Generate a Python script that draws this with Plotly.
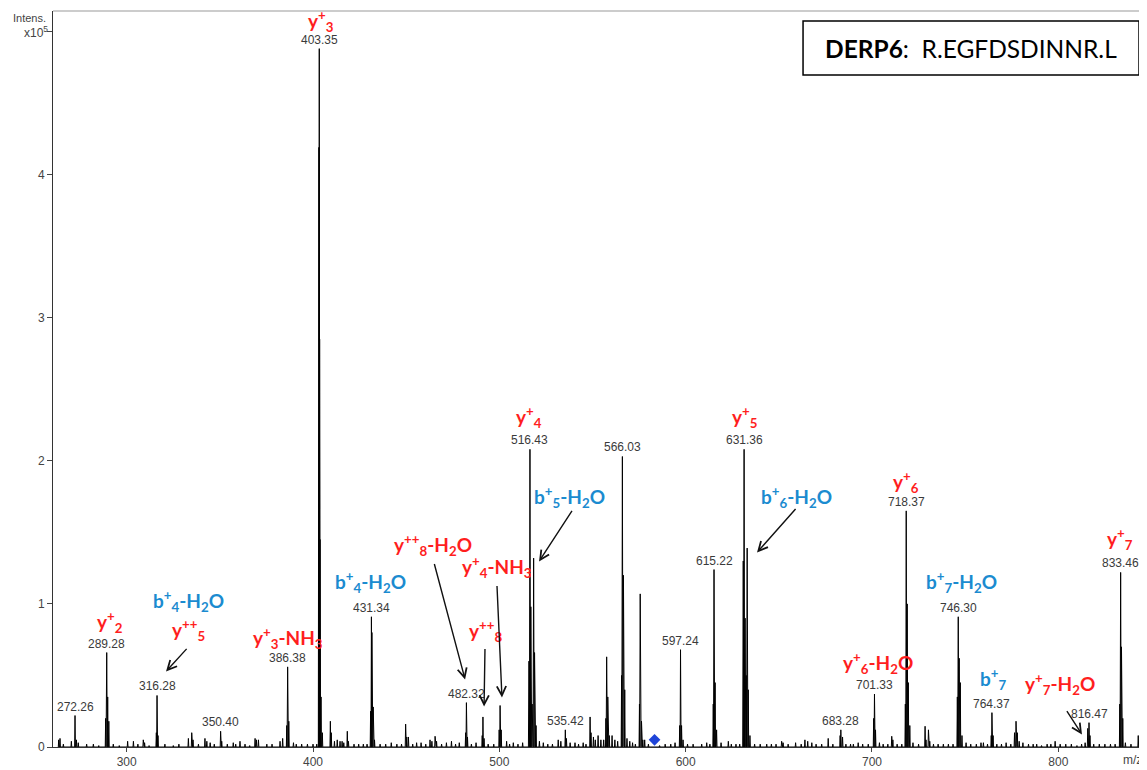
import plotly.graph_objects as go

# ---------------- data (m/z, intensity in units of 1e5) ----------------
peak_mz = [
    263.5, 264.2, 266.0, 270.3, 272.26, 273.0, 274.0, 278.5, 282.1, 285.0,
    288.7, 289.28, 289.8, 290.4, 292.8, 296.0, 300.5, 303.6, 306.0, 308.9,
    309.6, 312.0, 315.9, 316.28, 316.8, 320.5, 325.0, 328.0, 333.1, 334.9,
    335.6, 338.5, 342.0, 343.0, 344.8, 347.0, 350.40, 351.0, 354.0, 357.2,
    358.5, 360.8, 363.5, 366.0, 368.9, 369.6, 370.7, 375.2, 378.0, 382.3,
    383.7, 385.9, 386.38, 387.0, 389.5, 391.0, 393.9, 397.0, 400.0, 402.0,
    403.15, 403.35, 403.55, 403.75, 404.3, 405.0, 409.3, 409.8, 411.5, 413.0,
    414.5, 415.6, 416.5, 418.4, 419.0, 422.0, 424.5, 427.0, 429.0, 430.9,
    431.34, 431.6, 432.3, 433.0, 436.0, 439.0, 442.0, 445.0, 447.5, 449.7,
    450.3, 451.2, 453.5, 455.6, 458.0, 460.5, 462.8, 463.8, 465.5, 466.3,
    469.0, 471.6, 474.3, 476.5, 478.5, 481.9, 482.32, 482.9, 485.0, 487.5,
    490.8, 491.2, 491.8, 494.0, 497.0, 499.9, 500.4, 501.0, 503.9, 505.5,
    507.5, 510.0, 512.5, 515.9, 516.43, 516.9, 517.6, 518.4, 518.9, 519.7,
    521.5, 523.6, 526.0, 528.5, 531.6, 533.0, 535.42, 536.0, 538.0, 540.6,
    542.5, 545.0, 546.5, 548.7, 549.2, 550.5, 551.5, 553.0, 554.5, 556.0,
    557.2, 557.6, 558.2, 559.0, 560.5, 562.0, 563.5, 565.6, 566.03, 566.6,
    567.3, 568.5, 570.0, 571.5, 573.0, 575.2, 575.6, 576.3, 577.0, 578.0,
    580.0, 586.0, 589.0, 592.0, 594.3, 596.8, 597.24, 597.8, 598.6, 601.0,
    604.0, 608.6, 611.3, 613.0, 614.8, 615.22, 615.8, 616.6, 619.0, 622.9,
    624.5, 627.0, 629.0, 630.9, 631.36, 631.9, 632.5, 633.0, 633.6, 634.5,
    637.0, 640.0, 643.5, 646.0, 648.5, 651.5, 652.3, 655.0, 659.0, 662.0,
    664.0, 665.5, 667.7, 670.0, 673.0, 676.5, 679.0, 682.9, 683.28, 684.2,
    686.0, 688.5, 690.0, 692.6, 695.0, 698.0, 700.9, 701.33, 701.9, 704.0,
    706.0, 708.5, 710.6, 711.2, 713.5, 716.0, 717.9, 718.37, 718.9, 719.5,
    720.3, 722.0, 725.0, 728.5, 729.0, 730.3, 731.0, 733.0, 735.5, 738.3,
    741.0, 743.5, 745.8, 746.30, 746.8, 747.4, 748.3, 750.5, 753.0, 756.0,
    758.5, 759.8, 762.0, 764.0, 764.37, 765.0, 767.0, 769.5, 772.0, 774.5,
    776.5, 777.3, 778.0, 779.0, 781.0, 784.0, 786.5, 788.4, 791.0, 794.0,
    796.0, 798.3, 801.0, 804.0, 807.0, 810.0, 812.5, 814.4, 815.8, 816.47,
    817.0, 819.0, 822.0, 825.0, 828.0, 830.5, 833.0, 833.46, 833.9, 834.6,
    836.0, 839.0, 842.9, 844.2, 846.0,
]
peak_int = [
    0.05, 0.06, 0.02, 0.04, 0.22, 0.05, 0.03, 0.02, 0.02, 0.01,
    0.20, 0.66, 0.35, 0.18, 0.02, 0.01, 0.04, 0.04, 0.02, 0.05,
    0.03, 0.01, 0.10, 0.36, 0.08, 0.02, 0.01, 0.02, 0.06, 0.10,
    0.05, 0.02, 0.06, 0.04, 0.03, 0.02, 0.11, 0.04, 0.02, 0.03,
    0.02, 0.04, 0.02, 0.01, 0.06, 0.05, 0.05, 0.02, 0.02, 0.04,
    0.06, 0.15, 0.56, 0.18, 0.03, 0.02, 0.02, 0.02, 0.02, 0.02,
    4.19, 4.88, 2.85, 1.45, 0.35, 0.10, 0.18, 0.10, 0.04, 0.05,
    0.04, 0.04, 0.03, 0.11, 0.04, 0.02, 0.02, 0.02, 0.02, 0.25,
    0.91, 0.80, 0.28, 0.05, 0.02, 0.02, 0.03, 0.02, 0.02, 0.16,
    0.07, 0.07, 0.02, 0.03, 0.03, 0.02, 0.05, 0.04, 0.075, 0.04,
    0.02, 0.03, 0.04, 0.02, 0.03, 0.10, 0.31, 0.07, 0.02, 0.03,
    0.08, 0.21, 0.06, 0.02, 0.02, 0.12, 0.29, 0.12, 0.04, 0.02,
    0.03, 0.02, 0.03, 0.60, 2.08, 0.98, 0.30, 1.32, 0.66, 0.15,
    0.04, 0.03, 0.02, 0.02, 0.05, 0.04, 0.12, 0.06, 0.03, 0.03,
    0.02, 0.03, 0.02, 0.21, 0.10, 0.07, 0.05, 0.08, 0.05, 0.05,
    0.20, 0.63, 0.35, 0.08, 0.08, 0.05, 0.04, 0.50, 2.03, 1.20,
    0.40, 0.06, 0.04, 0.03, 0.02, 0.30, 1.07, 0.18, 0.05, 0.05,
    0.02, 0.01, 0.02, 0.02, 0.03, 0.15, 0.68, 0.15, 0.05, 0.02,
    0.02, 0.02, 0.03, 0.02, 0.30, 1.24, 0.45, 0.12, 0.03, 0.04,
    0.02, 0.02, 0.02, 1.30, 2.08, 0.90, 0.50, 1.39, 0.40, 0.08,
    0.02, 0.02, 0.02, 0.02, 0.02, 0.04, 0.03, 0.02, 0.03, 0.02,
    0.05, 0.04, 0.03, 0.02, 0.02, 0.06, 0.02, 0.08, 0.12, 0.07,
    0.02, 0.02, 0.02, 0.03, 0.02, 0.02, 0.20, 0.37, 0.12, 0.03,
    0.02, 0.02, 0.075, 0.05, 0.02, 0.02, 0.30, 1.65, 1.00, 0.45,
    0.15, 0.03, 0.02, 0.145, 0.05, 0.12, 0.04, 0.02, 0.02, 0.02,
    0.02, 0.02, 0.35, 0.91, 0.62, 0.45, 0.08, 0.03, 0.02, 0.02,
    0.03, 0.03, 0.02, 0.08, 0.24, 0.08, 0.02, 0.02, 0.03, 0.02,
    0.10, 0.18, 0.10, 0.04, 0.03, 0.02, 0.02, 0.02, 0.01, 0.02,
    0.02, 0.04, 0.02, 0.02, 0.02, 0.01, 0.02, 0.03, 0.13, 0.17,
    0.08, 0.02, 0.02, 0.02, 0.02, 0.02, 0.30, 1.22, 0.70, 0.20,
    0.03, 0.02, 0.08, 0.06, 0.02,
]

# labelled peaks (m/z values printed above peaks)
label_mz = [272.26, 289.28, 316.28, 350.40, 386.38, 403.35, 431.34, 482.32,
            516.43, 535.42, 566.03, 597.24, 615.22, 631.36, 683.28, 701.33,
            718.37, 746.30, 764.37, 816.47, 833.46]

# precursor marker
precursor_mz = [583.3]
precursor_int = [0.05]

# fragment-ion annotations: text and colour group
ion_text = ["y<sup>+</sup><sub>3</sub>", "y<sup>+</sup><sub>2</sub>",
            "y<sup>++</sup><sub>5</sub>", "b<sup>+</sup><sub>4</sub>-H<sub>2</sub>O",
            "y<sup>+</sup><sub>3</sub>-NH<sub>3</sub>", "b<sup>+</sup><sub>4</sub>-H<sub>2</sub>O",
            "y<sup>++</sup><sub>8</sub>-H<sub>2</sub>O", "y<sup>+</sup><sub>4</sub>-NH<sub>3</sub>",
            "y<sup>++</sup><sub>8</sub>", "b<sup>+</sup><sub>5</sub>-H<sub>2</sub>O",
            "y<sup>+</sup><sub>4</sub>", "y<sup>+</sup><sub>5</sub>",
            "b<sup>+</sup><sub>6</sub>-H<sub>2</sub>O", "y<sup>+</sup><sub>6</sub>",
            "y<sup>+</sup><sub>6</sub>-H<sub>2</sub>O", "b<sup>+</sup><sub>7</sub>-H<sub>2</sub>O",
            "b<sup>+</sup><sub>7</sub>", "y<sup>+</sup><sub>7</sub>-H<sub>2</sub>O",
            "y<sup>+</sup><sub>7</sub>"]
ion_kind = ["y", "y", "y", "b", "y", "b", "y", "y", "y", "b",
            "y", "y", "b", "y", "y", "b", "b", "y", "y"]

RED = "#FF1E1E"
BLUE = "#1B8BD0"

# ---------------- build profile trace ----------------
prof_x, prof_y = [], []
for mz, h in zip(peak_mz, peak_int):
    w = 0.3 if h > 0.5 else 0.22
    prof_x += [mz - w, mz, mz + w]
    prof_y += [0, h, 0]

lookup = dict(zip(peak_mz, peak_int))

fig = go.Figure()
fig.add_trace(go.Scatter(x=prof_x, y=prof_y, mode="lines",
                         line=dict(color="black", width=1), hoverinfo="skip"))
fig.add_trace(go.Scatter(x=precursor_mz, y=precursor_int, mode="markers",
                         marker=dict(symbol="diamond", size=9, color="#1f44d8"),
                         hoverinfo="skip"))

ann = []
for mz in label_mz:
    ann.append(dict(x=mz, y=lookup[mz], xref="x", yref="y", text=f"{mz:.2f}",
                    showarrow=False, yanchor="bottom", xanchor="center", yshift=0,
                    font=dict(family="Liberation Sans, Arial", size=12, color="#3a3a3a")))

ion_pos = [(404.3, 5.07), (291.1, 0.877), (332.9, 0.821), (332.9, 1.017),
           (386.6, 0.765), (430.6, 1.150), (464.4, 1.415), (498.7, 1.261),
           (492.3, 0.814), (537.9, 1.744), (515.9, 2.303), (631.8, 2.303),
           (659.7, 1.744), (718.2, 1.855), (703.2, 0.590), (747.8, 1.150),
           (765.0, 0.472), (801.0, 0.437), (833.1, 1.450)]
for t, k, (px, py) in zip(ion_text, ion_kind, ion_pos):
    ann.append(dict(x=px, y=py, xref="x", yref="y", text=f"<b>{t}</b>",
                    showarrow=False, xanchor="center", yanchor="middle",
                    font=dict(family="Lato, Open Sans", size=19,
                              color=RED if k == "y" else BLUE)))

arrows = [((332.9, 0.696), (321.1, 0.528)),
          ((464.9, 1.289), (481.6, 0.472)),
          ((492.3, 0.696), (491.8, 0.283)),
          ((498.7, 1.136), (501.4, 0.346)),
          ((539.5, 1.660), (521.3, 1.296)),
          ((659.7, 1.674), (638.3, 1.359)),
          ((804.1, 0.262), (812.7, 0.087))]
for (tx, ty), (hx, hy) in arrows:
    ann.append(dict(x=hx, y=hy, ax=tx, ay=ty, xref="x", yref="y", axref="x", ayref="y",
                    text="", showarrow=True, arrowhead=5, arrowsize=1.3,
                    arrowwidth=1.4, arrowcolor="#111", standoff=0))

ann.append(dict(x=-0.0046, y=0.991, xref="paper", yref="paper",
                text="Intens.", showarrow=False,
                xanchor="right", yanchor="middle",
                font=dict(family="Liberation Sans, Arial", size=11, color="#444")))
ann.append(dict(x=-0.0027, y=0.972, xref="paper", yref="paper",
                text="x10<sup>5</sup>", showarrow=False,
                xanchor="right", yanchor="middle",
                font=dict(family="Liberation Sans, Arial", size=12, color="#444")))
ann.append(dict(x=0.987, y=-0.0177, xref="paper", yref="paper", text="m/z",
                showarrow=False, xanchor="center", yanchor="middle",
                font=dict(family="Liberation Sans, Arial", size=12, color="#444")))
ann.append(dict(x=0.8391, y=0.9497, xref="paper", yref="paper",
                text="<b>DERP6</b>:  R.EGFDSDINNR.L", showarrow=False,
                xanchor="center", yanchor="middle",
                font=dict(family="Lato, Open Sans", size=24.5, color="black")))

shapes = [
    dict(type="line", xref="paper", yref="paper", x0=0, x1=1, y0=1, y1=1,
         line=dict(color="#999", width=1)),
    dict(type="rect", xref="paper", yref="paper", x0=0.6856, x1=0.9927,
         y0=0.913, y1=0.9864, line=dict(color="black", width=1.5), fillcolor="white",
         layer="below"),
]

fig.update_layout(
    width=1139, height=762,
    margin=dict(l=45, r=0, t=3, b=23),
    paper_bgcolor="white", plot_bgcolor="white",
    showlegend=False,
    annotations=ann, shapes=shapes,
    xaxis=dict(range=[260.44, 847.6], tickvals=[300, 400, 500, 600, 700, 800],
               ticks="outside", ticklen=4, tickcolor="#444", showline=True,
               linecolor="#333", linewidth=1, showgrid=False, zeroline=False,
               tickfont=dict(family="Liberation Sans, Arial", size=12, color="#444")),
    yaxis=dict(range=[0, 5.143], tickvals=[0, 1, 2, 3, 4, 5],
               ticktext=["0", "1", "2", "3", "4", ""],
               ticks="outside", ticklen=5, tickcolor="#444", showline=True,
               linecolor="#333", linewidth=1, showgrid=False, zeroline=False,
               tickfont=dict(family="Liberation Sans, Arial", size=12, color="#444")),
)

fig.write_html("out.html")
